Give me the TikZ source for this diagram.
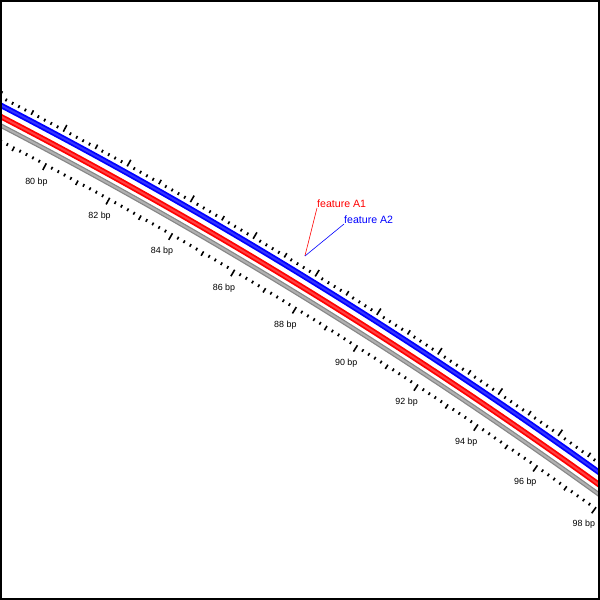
\documentclass[tikz,border=0pt]{standalone}
\usepackage{fontspec}
\setmainfont{Liberation Sans}
\definecolor{trackblue}{RGB}{0,0,255}
\definecolor{trackred}{RGB}{255,0,0}
\definecolor{trackgray}{RGB}{135,135,135}

\begin{document}
\begin{tikzpicture}[
  x=1pt, y=1pt,
  track/.style={line width=5.5pt},
  shine/.style={line width=2pt, opacity=0.35, white},
  tickmark/.style={line width=1.6pt},
  bplabel/.style={font=\fontsize{8.9}{10}\selectfont, inner sep=0pt},
  featlabel/.style={font=\fontsize{10.6}{12}\selectfont, inner sep=0pt, anchor=base west}
]
\useasboundingbox (0,0) rectangle (600,600);
\begin{scope}
\clip (2,2) rectangle (598,598);
\begin{scope}[shift={(-2220,-3799)}]
% strands
\draw[track, trackblue] (63:4834pt) arc[start angle=63, end angle=53.3, radius=4834pt];
\draw[track, trackred] (63:4824pt) arc[start angle=63, end angle=53.3, radius=4824pt];
\draw[track, trackgray, line width=4.5pt] (63:4816pt) arc[start angle=63, end angle=53.3, radius=4816pt];
\draw[shine, opacity=0.2] (63:4834pt) arc[start angle=63, end angle=53.3, radius=4834pt];
\draw[shine, opacity=0.25] (63:4824pt) arc[start angle=63, end angle=53.3, radius=4824pt];
\draw[shine] (63:4816pt) arc[start angle=63, end angle=53.3, radius=4816pt];
% ruler ticks, every 0.2 bp
\foreach \i in {0,...,110} {
  \pgfmathsetmacro\ang{62.71-0.086*\i}
  \pgfmathsetmacro\len{ifthenelse(mod(\i,10)==0, 7.5, ifthenelse(mod(\i,5)==0, 5, 3))}
  \pgfmathsetmacro\rout{4840+\len}
  \pgfmathsetmacro\rin{4804-\len}
  \draw[tickmark] (\ang:4840pt) -- (\ang:\rout pt);
  \draw[tickmark] (\ang:4804pt) -- (\ang:\rin pt);
}
% position labels
\foreach \b in {80,82,...,98} {
  \pgfmathsetmacro\ang{61.85-0.43*(\b-80)}
  \node[bplabel] (bp\b) at (\ang:4783pt) {\b\ bp};
}
\coordinate (featA) at (58.64:4852pt);
\end{scope}
\end{scope}

% feature callouts
\node[featlabel, text=trackred] (fA1) at (317,392) {feature A1};
\node[featlabel, text=trackblue] (fA2) at (344,376) {feature A2};
\draw[trackred, line width=0.6pt] (featA) -- (fA1.base west);
\draw[trackblue, line width=0.6pt] (featA) -- (fA2.base west);

\draw[line width=2pt] (1,1) rectangle (599,599);
\end{tikzpicture}
\end{document}
